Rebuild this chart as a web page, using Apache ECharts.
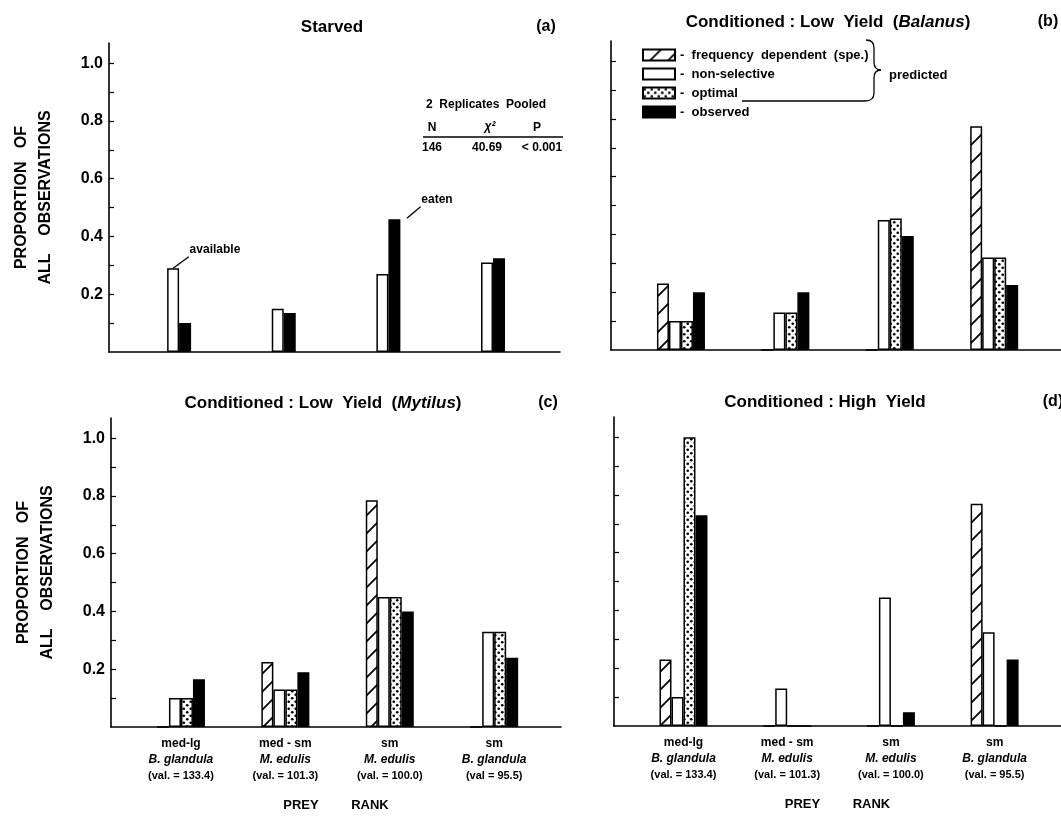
<!DOCTYPE html>
<html>
<head>
<meta charset="utf-8">
<script src="https://cdn.jsdelivr.net/npm/echarts@6/dist/echarts.min.js"></script>
<style>
html,body{margin:0;padding:0;background:#fff}
#chart{width:1061px;height:816px}
</style>
</head>
<body>
<div id="chart"></div>
<script>
var FONT = '"Liberation Sans", Arial, sans-serif';

// prey categories, ranked
var prey = [1, 2, 3, 4];
var sizeLabels = ['med-lg', 'med - sm', 'sm', 'sm'];
var speciesLabels = ['B. glandula', 'M. edulis', 'M. edulis', 'B. glandula'];
var valueLabelsC = ['(val. = 133.4)', '(val. = 101.3)', '(val. = 100.0)', '(val = 95.5)'];
var valueLabelsD = ['(val. = 133.4)', '(val. = 101.3)', '(val. = 100.0)', '(val. = 95.5)'];
var yTicks = [0.1, 0.2, 0.3, 0.4, 0.5, 0.6, 0.7, 0.8, 0.9, 1.0];
var yLabels = [0.2, 0.4, 0.6, 0.8, 1.0];

// (a) starved
var starvedAvailable = [0.29, 0.15, 0.27, 0.31];
var starvedEaten = [0.10, 0.135, 0.46, 0.325];
// (b) conditioned, low yield (Balanus)
var balanusFreq = [0.23, 0, 0, 0.775];
var balanusNonSel = [0.10, 0.13, 0.45, 0.32];
var balanusOptimal = [0.10, 0.13, 0.455, 0.32];
var balanusObserved = [0.20, 0.20, 0.395, 0.225];
// (c) conditioned, low yield (Mytilus)
var mytilusFreq = [0, 0.225, 0.785, 0];
var mytilusNonSel = [0.10, 0.13, 0.45, 0.33];
var mytilusOptimal = [0.10, 0.13, 0.45, 0.33];
var mytilusObserved = [0.165, 0.19, 0.40, 0.24];
// (d) conditioned, high yield
var highFreq = [0.23, 0, 0, 0.77];
var highNonSel = [0.10, 0.13, 0.445, 0.325];
var highOptimal = [1.0, 0, 0, 0];
var highObserved = [0.73, 0, 0.048, 0.23];

// leader lines in panel (a), in data units
var availableNote = [[1.0, 0.29], [1.15, 0.33]];
var eatenNote = [[3.12, 0.463], [3.25, 0.503]];

function hatchPattern() {
    var s = 18;
    var c = document.createElement('canvas');
    c.width = s; c.height = s;
    var g = c.getContext('2d');
    g.fillStyle = '#fff';
    g.fillRect(0, 0, s, s);
    g.strokeStyle = '#000';
    g.lineWidth = 1.8;
    g.beginPath();
    g.moveTo(0, s); g.lineTo(s, 0);
    g.moveTo(-s / 2, s / 2); g.lineTo(s / 2, -s / 2);
    g.moveTo(s / 2, s * 1.5); g.lineTo(s * 1.5, s / 2);
    g.stroke();
    return { image: c, repeat: 'repeat' };
}
function dotPattern() {
    var s = 7;
    var c = document.createElement('canvas');
    c.width = s; c.height = s;
    var g = c.getContext('2d');
    g.fillStyle = '#fff';
    g.fillRect(0, 0, s, s);
    g.fillStyle = '#000';
    g.beginPath(); g.arc(1.75, 1.75, 1.35, 0, Math.PI * 2); g.fill();
    g.beginPath(); g.arc(5.25, 5.25, 1.35, 0, Math.PI * 2); g.fill();
    return { image: c, repeat: 'repeat' };
}
var HATCH = hatchPattern();
var DOTS = dotPattern();

function pairs(vals) {
    return prey.map(function (x, i) { return [x, vals[i]]; });
}
function bar(name, idx, vals, color) {
    return {
        name: name, type: 'bar', xAxisIndex: idx, yAxisIndex: idx,
        data: pairs(vals), barWidth: 12, barGap: '0%',
        itemStyle: { color: color, borderColor: '#000', borderWidth: 1.5 },
        silent: true
    };
}
function panel(idx, freq, nonSel, opt, obs) {
    return [
        bar('frequency dependent (spe.)', idx, freq, HATCH),
        bar('non-selective', idx, nonSel, '#fff'),
        bar('optimal', idx, opt, DOTS),
        bar('observed', idx, obs, '#000')
    ];
}
function note(points, text) {
    return {
        silent: true, symbol: ['none', 'none'], animation: false,
        lineStyle: { color: '#000', width: 1.3, type: 'solid' },
        label: { show: true, position: 'end', formatter: text, align: 'left', verticalAlign: 'bottom',
                 distance: 1, color: '#000', fontFamily: FONT, fontSize: 12, fontWeight: 'bold' },
        data: [[{ coord: points[0] }, { coord: points[1] }]]
    };
}

function makeX(idx, valueLabels) {
    var ax = {
        type: 'value', gridIndex: idx, min: 0.33, max: 4.64,
        axisLine: { onZero: false, lineStyle: { color: '#000', width: 1.6 } },
        axisTick: { show: false }, splitLine: { show: false },
        axisLabel: { show: false }
    };
    if (valueLabels) {
        ax.axisLabel = {
            show: true, customValues: prey, margin: 9, color: '#000',
            formatter: function (v) {
                var i = Math.round(v) - 1;
                return '{a|' + sizeLabels[i] + '}\n{b|' + speciesLabels[i] + '}\n{c|' + valueLabels[i] + '}';
            },
            rich: {
                a: { fontFamily: FONT, fontSize: 12, fontWeight: 'bold', lineHeight: 16, color: '#000' },
                b: { fontFamily: FONT, fontSize: 12, fontWeight: 'bold', fontStyle: 'italic', lineHeight: 16, color: '#000' },
                c: { fontFamily: FONT, fontSize: 11, fontWeight: 'bold', lineHeight: 16, color: '#000' }
            }
        };
        ax.name = 'PREY         RANK';
        ax.nameLocation = 'middle';
        ax.nameGap = 72;
        ax.nameTextStyle = { fontFamily: FONT, fontSize: 13, fontWeight: 'bold', color: '#000' };
    }
    return ax;
}
function makeY(idx, withLabels) {
    var ax = {
        type: 'value', gridIndex: idx, min: 0, max: 1.07,
        axisLine: { show: true, onZero: false, lineStyle: { color: '#000', width: 1.6 } },
        axisTick: { show: true, inside: true, length: 5, customValues: yTicks, lineStyle: { color: '#000', width: 1.2 } },
        axisLabel: { show: withLabels, customValues: yLabels, margin: 6, color: '#000',
                     fontFamily: FONT, fontSize: 16, fontWeight: 'bold',
                     formatter: function (v) { return v.toFixed(1); } },
        splitLine: { show: false }
    };
    if (withLabels) {
        ax.name = 'PROPORTION   OF\nALL    OBSERVATIONS';
        ax.nameLocation = 'middle';
        ax.nameRotate = 90;
        ax.nameGap = 51;
        ax.nameTextStyle = { fontFamily: FONT, fontSize: 16, fontWeight: 'bold', lineHeight: 24, color: '#000' };
    }
    return ax;
}

function txt(text, x, y, size, extra) {
    var st = { text: text, x: x, y: y, align: 'center', verticalAlign: 'middle', fill: '#000',
               fontFamily: FONT, fontSize: size, fontWeight: 'bold' };
    for (var k in extra) st[k] = extra[k];
    return { type: 'text', silent: true, style: st };
}
function seg(x1, y1, x2, y2) {
    return { type: 'line', silent: true, shape: { x1: x1, y1: y1, x2: x2, y2: y2 },
             style: { stroke: '#000', lineWidth: 1.3 } };
}
function curve(x1, y1, cx, cy, x2, y2) {
    return { type: 'bezierCurve', silent: true,
             shape: { x1: x1, y1: y1, cpx1: cx, cpy1: cy, x2: x2, y2: y2 },
             style: { stroke: '#000', lineWidth: 1.3, fill: null } };
}
var italicRich = { i: { fontFamily: FONT, fontSize: 17, fontWeight: 'bold', fontStyle: 'italic', fill: '#000' } };

var seriesA = [
    bar('available', 0, starvedAvailable, '#fff'),
    bar('eaten', 0, starvedEaten, '#000')
];
seriesA[0].markLine = note(availableNote, 'available');
seriesA[1].markLine = note(eatenNote, 'eaten');

var option = {
    animation: false,
    backgroundColor: '#fff',
    textStyle: { fontFamily: FONT, color: '#000' },
    grid: [
        { left: 109, top: 43, width: 451, height: 309 },
        { left: 611, top: 41, width: 450, height: 309 },
        { left: 111, top: 418, width: 450, height: 309 },
        { left: 614, top: 417, width: 450, height: 309 }
    ],
    xAxis: [makeX(0, null), makeX(1, null), makeX(2, valueLabelsC), makeX(3, valueLabelsD)],
    yAxis: [makeY(0, true), makeY(1, false), makeY(2, true), makeY(3, false)],
    legend: {
        left: 637, top: 43, orient: 'vertical', itemWidth: 32, itemHeight: 11, itemGap: 5,
        icon: 'rect', selectedMode: false,
        data: ['frequency dependent (spe.)', 'non-selective', 'optimal', 'observed'],
        formatter: function (name) { return '-  ' + name.replace(/ /g, '  '); },
        textStyle: { fontFamily: FONT, fontSize: 13, fontWeight: 'bold', color: '#000', lineHeight: 14 }
    },
    graphic: [
        txt('Starved', 332, 27, 17),
        txt('(a)', 546, 27, 16),
        txt('Conditioned : Low  Yield  ({i|Balanus})', 828, 22, 17, { rich: italicRich }),
        txt('(b)', 1048, 22, 16),
        txt('Conditioned : Low  Yield  ({i|Mytilus})', 323, 403, 17, { rich: italicRich }),
        txt('(c)', 548, 403, 16),
        txt('Conditioned : High  Yield', 825, 402, 17),
        txt('(d)', 1053, 402, 16),
        // statistics table in panel (a)
        txt('2  Replicates  Pooled', 486, 105, 12),
        txt('N', 432, 128, 12),
        txt('χ²', 490, 127, 12, { fontStyle: 'italic' }),
        txt('P', 537, 128, 12),
        seg(423, 137, 563, 137),
        txt('146', 432, 148, 12),
        txt('40.69', 487, 148, 12),
        txt('< 0.001', 542, 148, 12),
        // brace for the predicted legend entries
        curve(866, 40, 874, 40, 874, 48),
        seg(874, 48, 874, 62),
        curve(874, 62, 874, 70, 881, 70),
        curve(881, 70, 874, 70, 874, 78),
        seg(874, 78, 874, 93),
        curve(874, 93, 874, 101, 865, 101),
        seg(865, 101, 742, 101),
        txt('predicted', 889, 75, 13, { align: 'left' })
    ],
    series: seriesA
        .concat(panel(1, balanusFreq, balanusNonSel, balanusOptimal, balanusObserved))
        .concat(panel(2, mytilusFreq, mytilusNonSel, mytilusOptimal, mytilusObserved))
        .concat(panel(3, highFreq, highNonSel, highOptimal, highObserved))
};

var myChart = echarts.init(document.getElementById('chart'));
if (option && typeof option === "object") {
    myChart.setOption(option, true);
}
</script>
</body>
</html>
